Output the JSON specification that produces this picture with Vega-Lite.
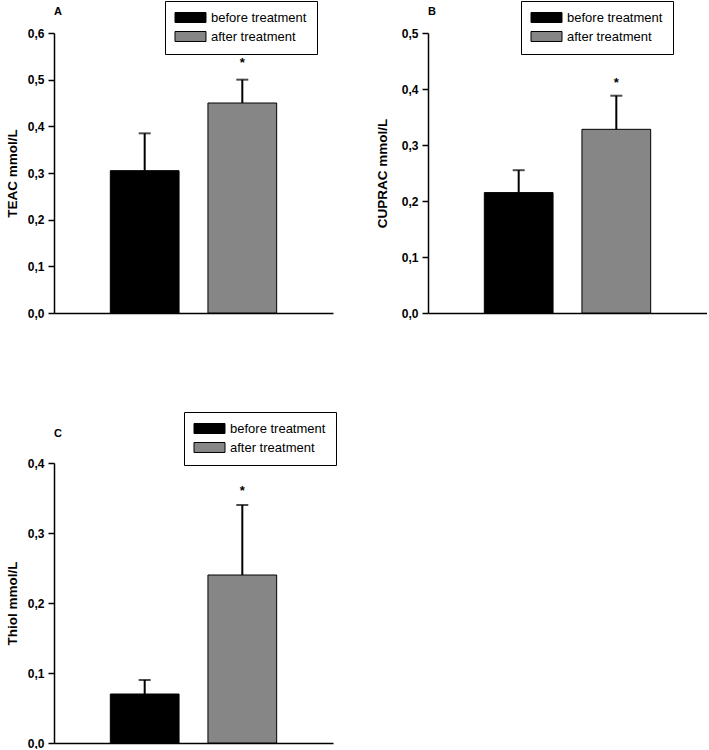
{
  "$schema": "https://vega.github.io/schema/vega-lite/v6.json",
  "padding": {"left": 5, "top": 0, "right": 0, "bottom": 0},
  "background": "white",
  "datasets": {
    "A": [
      {"group": "before treatment", "value": 0.305, "upper": 0.385, "sig": ""},
      {"group": "after treatment", "value": 0.45, "upper": 0.5, "sig": "*"}
    ],
    "B": [
      {"group": "before treatment", "value": 0.215, "upper": 0.255, "sig": ""},
      {"group": "after treatment", "value": 0.328, "upper": 0.388, "sig": "*"}
    ],
    "C": [
      {"group": "before treatment", "value": 0.07, "upper": 0.09, "sig": ""},
      {"group": "after treatment", "value": 0.24, "upper": 0.34, "sig": "*"}
    ]
  },
  "vconcat": [
    {
      "hconcat": [
        {
          "width": 279, "height": 280,
          "title": {"text": "A", "anchor": "start", "frame": "group", "offset": -16.5},
          "data": {"name": "A"},
          "encoding": {
            "x": {"field": "group", "type": "nominal", "sort": ["before treatment", "after treatment"],
                  "scale": {"paddingInner": 0.296, "paddingOuter": 0.577},
                  "axis": {"title": null, "labels": false, "ticks": false}}
          },
          "layer": [
            {"mark": {"type": "bar", "stroke": "black", "strokeWidth": 1},
             "encoding": {
               "y": {"field": "value", "type": "quantitative", "title": "TEAC mmol/L",
                     "scale": {"domain": [0, 0.6], "nice": false},
                     "axis": {"values": [0, 0.1, 0.2, 0.3, 0.4, 0.5, 0.6]}},
               "color": {"field": "group", "type": "nominal",
                         "scale": {"domain": ["before treatment", "after treatment"], "range": ["#000000", "#868686"]},
                         "legend": {"title": null, "orient": "none", "legendX": 111, "legendY": -32}}
             }},
            {"mark": {"type": "rule", "strokeWidth": 2, "color": "black"},
             "encoding": {"y": {"field": "value", "type": "quantitative", "title": "TEAC mmol/L"}, "y2": {"field": "upper"}}},
            {"mark": {"type": "tick", "thickness": 2, "size": 12, "color": "black"},
             "encoding": {"y": {"field": "upper", "type": "quantitative", "title": "TEAC mmol/L"}}},
            {"mark": {"type": "text", "dy": -13, "fontSize": 13, "fontWeight": "bold", "baseline": "alphabetic", "color": "black"},
             "encoding": {"y": {"field": "upper", "type": "quantitative", "title": "TEAC mmol/L"}, "text": {"field": "sig"}}}
          ],
          "resolve": {"scale": {"color": "independent"}, "legend": {"color": "independent"}}
        },
        {
          "width": 279, "height": 280,
          "title": {"text": "B", "anchor": "start", "frame": "group", "offset": -16.5},
          "data": {"name": "B"},
          "encoding": {
            "x": {"field": "group", "type": "nominal", "sort": ["before treatment", "after treatment"],
                  "scale": {"paddingInner": 0.296, "paddingOuter": 0.577},
                  "axis": {"title": null, "labels": false, "ticks": false}}
          },
          "layer": [
            {"mark": {"type": "bar", "stroke": "black", "strokeWidth": 1},
             "encoding": {
               "y": {"field": "value", "type": "quantitative", "title": "CUPRAC mmol/L",
                     "scale": {"domain": [0, 0.5], "nice": false},
                     "axis": {"values": [0, 0.1, 0.2, 0.3, 0.4, 0.5], "titlePadding": 12}},
               "color": {"field": "group", "type": "nominal",
                         "scale": {"domain": ["before treatment", "after treatment"], "range": ["#000000", "#868686"]},
                         "legend": {"title": null, "orient": "none", "legendX": 93, "legendY": -32}}
             }},
            {"mark": {"type": "rule", "strokeWidth": 2, "color": "black"},
             "encoding": {"y": {"field": "value", "type": "quantitative", "title": "CUPRAC mmol/L"}, "y2": {"field": "upper"}}},
            {"mark": {"type": "tick", "thickness": 2, "size": 12, "color": "black"},
             "encoding": {"y": {"field": "upper", "type": "quantitative", "title": "CUPRAC mmol/L"}}},
            {"mark": {"type": "text", "dy": -9, "fontSize": 13, "fontWeight": "bold", "baseline": "alphabetic", "color": "black"},
             "encoding": {"y": {"field": "upper", "type": "quantitative", "title": "CUPRAC mmol/L"}, "text": {"field": "sig"}}}
          ],
          "resolve": {"scale": {"color": "independent"}, "legend": {"color": "independent"}}
        }
      ],
      "spacing": 42
    },
    {
      "width": 279, "height": 280,
      "title": {"text": "C", "anchor": "start", "frame": "group", "offset": -27.5},
      "data": {"name": "C"},
      "encoding": {
        "x": {"field": "group", "type": "nominal", "sort": ["before treatment", "after treatment"],
              "scale": {"paddingInner": 0.296, "paddingOuter": 0.577},
              "axis": {"title": null, "labels": false, "ticks": false}}
      },
      "layer": [
        {"mark": {"type": "bar", "stroke": "black", "strokeWidth": 1},
         "encoding": {
           "y": {"field": "value", "type": "quantitative", "title": "Thiol mmol/L",
                 "scale": {"domain": [0, 0.4], "nice": false},
                 "axis": {"values": [0, 0.1, 0.2, 0.3, 0.4]}},
           "color": {"field": "group", "type": "nominal",
                     "scale": {"domain": ["before treatment", "after treatment"], "range": ["#000000", "#868686"]},
                     "legend": {"title": null, "orient": "none", "legendX": 130, "legendY": -51}}
         }},
        {"mark": {"type": "rule", "strokeWidth": 2, "color": "black"},
         "encoding": {"y": {"field": "value", "type": "quantitative", "title": "Thiol mmol/L"}, "y2": {"field": "upper"}}},
        {"mark": {"type": "tick", "thickness": 2, "size": 12, "color": "black"},
         "encoding": {"y": {"field": "upper", "type": "quantitative", "title": "Thiol mmol/L"}}},
        {"mark": {"type": "text", "dy": -10, "fontSize": 13, "fontWeight": "bold", "baseline": "alphabetic", "color": "black"},
         "encoding": {"y": {"field": "upper", "type": "quantitative", "title": "Thiol mmol/L"}, "text": {"field": "sig"}}}
      ],
      "resolve": {"scale": {"color": "independent"}, "legend": {"color": "independent"}}
    }
  ],
  "spacing": 92,
  "resolve": {"scale": {"color": "independent", "y": "independent", "x": "independent"}, "legend": {"color": "independent"}},
  "config": {
    "font": "Liberation Sans",
    "view": {"stroke": null},
    "title": {"fontSize": 11, "fontWeight": "bold", "color": "black", "font": "Liberation Sans"},
    "axis": {
      "grid": false,
      "domainColor": "black", "domainWidth": 1.5,
      "tickColor": "black", "tickWidth": 1.5, "tickSize": 6,
      "labelFont": "Liberation Sans", "labelFontSize": 12, "labelFontWeight": "bold", "labelColor": "black", "labelPadding": 4,
      "titleFont": "Liberation Sans", "titleFontSize": 13.5, "titleFontWeight": "bold", "titleColor": "black", "titlePadding": 8,
      "labelExpr": "replace(format(datum.value, '.1f'), '.', ',')"
    },
    "legend": {
      "strokeColor": "black", "strokeWidth": 1, "padding": 10, "fillColor": "white",
      "symbolType": "M-2.583,-0.833H2.583V0.833H-2.583Z", "symbolSize": 144, "symbolOffset": 9,
      "symbolStrokeColor": "black", "symbolStrokeWidth": 1, "symbolOpacity": 1,
      "labelFont": "Liberation Sans", "labelFontSize": 13, "labelColor": "black", "labelOffset": 14,
      "rowPadding": 4, "labelLimit": 200
    }
  }
}
